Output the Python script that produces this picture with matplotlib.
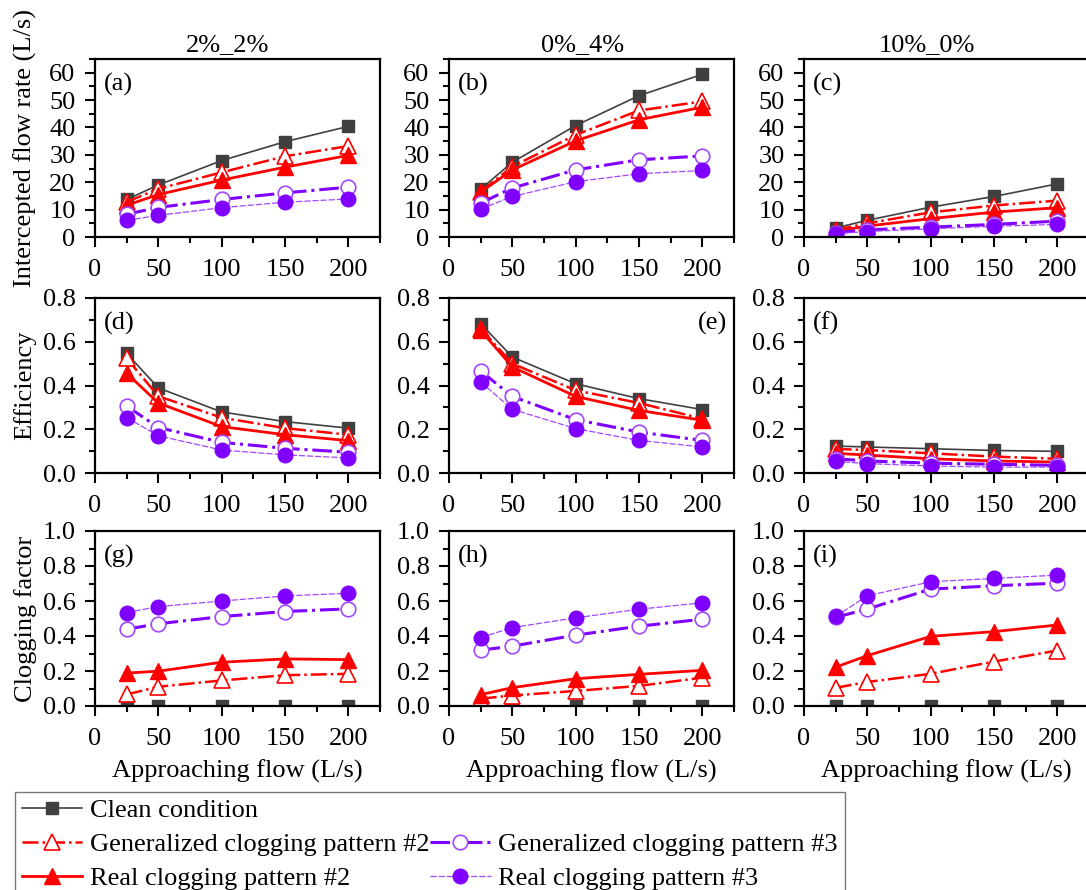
import numpy as np
import matplotlib.pyplot as plt
from matplotlib.lines import Line2D
from matplotlib.ticker import MultipleLocator, FormatStrFormatter

plt.rcParams['font.family'] = ['Liberation Serif', 'DejaVu Serif']

# approaching flow (L/s)
x = [25, 50, 100, 150, 200]
cases = ['2%_2%', '0%_4%', '10%_0%']

# intercepted flow rate (L/s), one row per case
flow_clean = [[13.7, 19.0, 27.9, 34.8, 40.4],
              [17.5, 27.3, 40.7, 51.6, 59.4],
              [3.3, 6.1, 10.9, 14.8, 19.4]]
flow_gen2 = [[12.8, 17.6, 23.6, 29.5, 33.2],
             [16.6, 25.7, 37.3, 46.2, 49.5],
             [2.6, 5.0, 9.0, 11.5, 13.3]]
flow_real2 = [[11.6, 15.5, 20.8, 25.5, 29.8],
              [16.4, 24.5, 35.1, 42.8, 47.4],
              [2.1, 4.0, 6.7, 9.1, 10.7]]
flow_gen3 = [[8.3, 10.8, 13.7, 16.1, 18.2],
             [12.4, 17.9, 24.5, 28.2, 29.6],
             [1.6, 2.6, 3.6, 4.6, 5.8]]
flow_real3 = [[6.1, 7.9, 10.7, 12.7, 13.9],
              [10.2, 14.8, 20.2, 23.1, 24.3],
              [1.2, 2.0, 3.0, 3.9, 4.6]]

# efficiency
eff_clean = [[0.547, 0.389, 0.279, 0.235, 0.205],
             [0.683, 0.530, 0.408, 0.340, 0.290],
             [0.123, 0.119, 0.111, 0.103, 0.099]]
eff_gen2 = [[0.524, 0.351, 0.253, 0.205, 0.175],
            [0.660, 0.500, 0.378, 0.320, 0.248],
            [0.110, 0.105, 0.090, 0.075, 0.065]]
eff_real2 = [[0.456, 0.320, 0.212, 0.175, 0.148],
             [0.652, 0.485, 0.350, 0.286, 0.241],
             [0.090, 0.082, 0.065, 0.055, 0.050]]
eff_gen3 = [[0.306, 0.208, 0.140, 0.113, 0.095],
            [0.466, 0.350, 0.244, 0.187, 0.149],
            [0.065, 0.055, 0.045, 0.040, 0.035]]
eff_real3 = [[0.253, 0.170, 0.105, 0.083, 0.069],
             [0.416, 0.291, 0.203, 0.149, 0.119],
             [0.053, 0.043, 0.032, 0.027, 0.027]]

# clogging factor
clog_clean = [[0.0, 0.0, 0.0, 0.0, 0.0],
              [0.0, 0.0, 0.0, 0.0, 0.0],
              [0.0, 0.0, 0.0, 0.0, 0.0]]
clog_gen2 = [[0.066, 0.110, 0.146, 0.176, 0.184],
             [0.042, 0.060, 0.086, 0.115, 0.162],
             [0.104, 0.137, 0.184, 0.254, 0.317]]
clog_real2 = [[0.188, 0.199, 0.250, 0.269, 0.265],
              [0.065, 0.105, 0.156, 0.181, 0.204],
              [0.222, 0.288, 0.398, 0.425, 0.463]]
clog_gen3 = [[0.439, 0.470, 0.511, 0.540, 0.555],
             [0.319, 0.342, 0.405, 0.456, 0.496],
             [0.507, 0.554, 0.668, 0.687, 0.702]]
clog_real3 = [[0.534, 0.568, 0.600, 0.629, 0.644],
              [0.391, 0.448, 0.504, 0.553, 0.590],
              [0.512, 0.630, 0.710, 0.729, 0.748]]

gray = '#404040'
red = '#ff0000'
purple = '#8000ff'
light_purple = '#a347ff'

styles = {
    'clean': dict(color=gray, lw=1.2, ls='-', marker='s', ms=9, mfc=gray, mec=gray),
    'gen2': dict(color=red, lw=1.8, ls='-.', marker='^', ms=11, mfc='white', mec=red, mew=1.2),
    'real2': dict(color=red, lw=2.0, ls='-', marker='^', ms=11, mfc=red, mec=red),
    'gen3': dict(color=purple, lw=2.2, ls='-.', marker='o', ms=10.5, mfc='white', mec=light_purple, mew=1.2),
    'real3': dict(color=light_purple, lw=0.9, ls=(0, (5, 1.5)), marker='o', ms=10.5, mfc=purple, mec=purple),
}

rows = [
    (flow_clean, flow_gen2, flow_real2, flow_gen3, flow_real3),
    (eff_clean, eff_gen2, eff_real2, eff_gen3, eff_real3),
    (clog_clean, clog_gen2, clog_real2, clog_gen3, clog_real3),
]
ylims = [(0, 65), (0, 0.8), (0, 1.0)]
ymajor = [10, 0.2, 0.2]
yminor = [5, 0.1, 0.1]
yfmt = ['%d', '%.1f', '%.1f']
ylabels = ['Intercepted flow rate (L/s)', 'Efficiency', 'Clogging factor']
letters = ['abc', 'def', 'ghi']

FS = 19
W, H = 1086, 890
fig = plt.figure(figsize=(W / 100, H / 100), dpi=100)

col_left = [95, 449, 804]
col_w = 285
row_top = [59, 298, 531]
row_bot = [237, 473, 706]
title_x = [0.465, 0.467, 0.432]

for r in range(3):
    for c in range(3):
        ax = fig.add_axes([col_left[c] / W, 1 - row_bot[r] / H,
                           col_w / W, (row_bot[r] - row_top[r]) / H])
        series = rows[r]
        for key, data in zip(['clean', 'gen2', 'real2', 'gen3', 'real3'], series):
            ax.plot(x, data[c], **styles[key])

        ax.set_xlim(0, 225)
        ax.set_ylim(*ylims[r])
        ax.xaxis.set_major_locator(MultipleLocator(50))
        ax.xaxis.set_minor_locator(MultipleLocator(25))
        ax.yaxis.set_major_locator(MultipleLocator(ymajor[r]))
        ax.yaxis.set_minor_locator(MultipleLocator(yminor[r]))
        ax.yaxis.set_major_formatter(FormatStrFormatter(yfmt[r]))
        ax.tick_params(which='both', direction='out', width=1.5, labelsize=FS,
                       top=False, right=False)
        ax.tick_params(which='major', length=7)
        ax.tick_params(which='minor', length=4)
        ax.tick_params(axis='x', which='major', pad=9)
        ax.tick_params(axis='y', which='major', pad=7)
        for sp in ax.spines.values():
            sp.set_linewidth(1.6)

        # panel letter
        if letters[r][c] == 'e':
            ax.text(0.975, 0.855, '(e)', transform=ax.transAxes, fontsize=FS,
                    ha='right', va='center')
        else:
            ax.text(0.03, 0.855, '(%s)' % letters[r][c], transform=ax.transAxes,
                    fontsize=FS, ha='left', va='center')

        if r == 0:
            ax.set_title(cases[c], fontsize=FS, x=title_x[c], pad=6)
        if r == 2:
            ax.set_xlabel('Approaching flow (L/s)', fontsize=FS, labelpad=7)
        if c == 0:
            ax.set_ylabel(ylabels[r], fontsize=FS)
            ax.yaxis.set_label_coords(-0.205, 0.5)

# legend laid out in two columns, top-right slot left empty
blank = Line2D([], [], linestyle='none', marker='none')
handles = [
    Line2D([], [], **styles['clean']),
    Line2D([], [], **styles['gen2']),
    Line2D([], [], **styles['real2']),
    blank,
    Line2D([], [], **styles['gen3']),
    Line2D([], [], **styles['real3']),
]
labels = ['Clean condition', 'Generalized clogging pattern #2', 'Real clogging pattern #2',
          '', 'Generalized clogging pattern #3', 'Real clogging pattern #3']
leg = fig.legend(handles, labels, ncol=2, loc='upper left',
                 bbox_to_anchor=(15 / W, 1 - 792 / H), fontsize=FS,
                 frameon=True, fancybox=False, edgecolor='#555555',
                 handlelength=2.3, handletextpad=0.3, columnspacing=0.0,
                 labelspacing=0.4, borderpad=0.25, borderaxespad=0)
leg.get_frame().set_linewidth(1.0)

fig.savefig('out.png', dpi=100)
